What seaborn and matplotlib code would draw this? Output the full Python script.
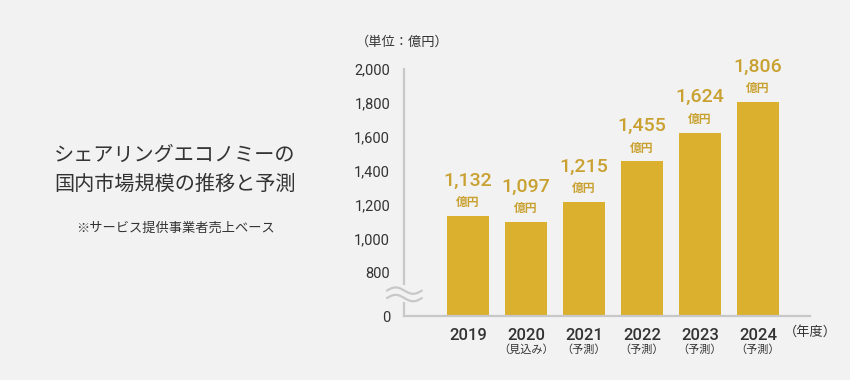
import numpy as np
import pandas as pd
import matplotlib
matplotlib.use("Agg")
import matplotlib.pyplot as plt
import matplotlib.transforms as mtransforms
from matplotlib.patches import Rectangle
import seaborn as sns

# ---- data ----
years = ["2019", "2020", "2021", "2022", "2023", "2024"]
sub_labels = ["", "（見込み）", "（予測）", "（予測）", "（予測）", "（予測）"]
values = [1132, 1097, 1215, 1455, 1624, 1806]
ytick_values = [800, 1000, 1200, 1400, 1600, 1800, 2000]
title_lines = ["シェアリングエコノミーの", "国内市場規模の推移と予測"]
subtitle = "※サービス提供事業者売上ベース"
unit_label = "（単位：億円）"
year_unit = "（年度）"
value_unit = "億円"

BG = "#f2f2f2"
GOLD = "#dbb02f"
GOLD_TXT = "#c9a130"
DARK = "#333333"
AXC = "#c8c8c8"

sns.set_theme(style="white")
plt.rcParams["font.family"] = ["Roboto", "Noto Sans CJK JP", "DejaVu Sans"]
CJK = ["Noto Sans CJK JP", "DejaVu Sans"]

W, H = 850, 380
fig = plt.figure(figsize=(W / 100, H / 100), dpi=100, facecolor=BG)

def fx(px):
    return px / W

def fy(py):
    return 1 - py / H

# axes: left spine at x=404, right end 810, baseline y=316, top (2000) y=69
ax = fig.add_axes([fx(404), fy(316), fx(810) - fx(404), fy(69) - fy(316)])
ax.set_facecolor(BG)

df = pd.DataFrame({"year": years, "value": values})
sns.barplot(data=df, x="year", y="value", color=GOLD, width=0.724,
            saturation=1, edgecolor="none", linewidth=0, ax=ax, zorder=2)

# broken axis: 800 at 272px, 0 at 316px, 200 units = 34 px
zero_virtual = 800 - (316 - 272) * 200 / 34
ax.set_ylim(zero_virtual, 2000)
ax.set_xlim((404 - 468) / 58, (810 - 468) / 58)

for s in ["top", "right"]:
    ax.spines[s].set_visible(False)
for s in ["left", "bottom"]:
    ax.spines[s].set_color(AXC)
    ax.spines[s].set_linewidth(1.6)

ax.set_yticks([zero_virtual] + ytick_values)
ax.set_yticklabels(["0"] + [f"{v:,}" for v in ytick_values])
ax.tick_params(axis="y", direction="in", length=8, width=1.2, color=AXC,
               pad=10, labelsize=10.5, labelcolor=DARK)
ax.yaxis.get_major_ticks()[0].tick1line.set_visible(False)
ax.tick_params(axis="x", length=0, pad=9, labelsize=12, labelcolor=DARK)
for lab in ax.get_xticklabels():
    lab.set_fontweight("medium")
ax.set_xlabel("")
ax.set_ylabel("")

# sub labels under years
for i, s in enumerate(sub_labels):
    if s:
        ax.annotate(s, xy=(i, 0), xycoords=("data", "axes fraction"),
                    xytext=(0, -24.5), textcoords="offset points",
                    ha="center", va="center", fontsize=8, color=DARK,
                    family=CJK, annotation_clip=False)
ax.annotate(year_unit, xy=(1.0, 0), xycoords="axes fraction",
            xytext=(0, -11.5), textcoords="offset points",
            ha="center", va="center", fontsize=9.5, color=DARK,
            family=CJK, annotation_clip=False)

# value labels
for i, v in enumerate(values):
    ax.annotate(f"{v:,}", xy=(i, v), xytext=(0, 25.5), textcoords="offset points",
                ha="center", va="center", fontsize=14, fontweight="medium",
                color=GOLD_TXT, annotation_clip=False)
    ax.annotate(value_unit, xy=(i, v), xytext=(0, 9.5), textcoords="offset points",
                ha="center", va="center", fontsize=8.5, fontweight="bold",
                color=GOLD_TXT, family=CJK, annotation_clip=False)

# axis break decoration
tr = mtransforms.blended_transform_factory(ax.transAxes, ax.transData)
y_hi = 800 - (285 - 272) * 200 / 34
y_lo = 800 - (302 - 272) * 200 / 34
ax.add_patch(Rectangle((-0.02, y_lo), 0.04, y_hi - y_lo, transform=tr,
                       facecolor=BG, edgecolor="none", clip_on=False, zorder=6))
t = np.linspace(0, 2 * np.pi, 80)
xs = -0.042 + (0.086) * t / (2 * np.pi)
amp = 3.2 * 200 / 34
for ypx in (290.5, 298):
    yc = 800 - (ypx - 272) * 200 / 34
    ax.plot(xs, yc + amp * np.sin(t), transform=tr, color=AXC, lw=1.6,
            clip_on=False, zorder=7)

# unit label
fig.text(fx(402), fy(42), unit_label, ha="center", va="center",
         fontsize=9.5, color=DARK, family=CJK)

# title
fig.text(fx(175), fy(155), title_lines[0], ha="center", va="center",
         fontsize=14.5, color=DARK, family=CJK)
fig.text(fx(175), fy(184), title_lines[1], ha="center", va="center",
         fontsize=14.5, color=DARK, family=CJK)
fig.text(fx(176), fy(228), subtitle, ha="center", va="center",
         fontsize=9.5, color=DARK, family=CJK)

fig.savefig("out.png", dpi=100, facecolor=BG)
